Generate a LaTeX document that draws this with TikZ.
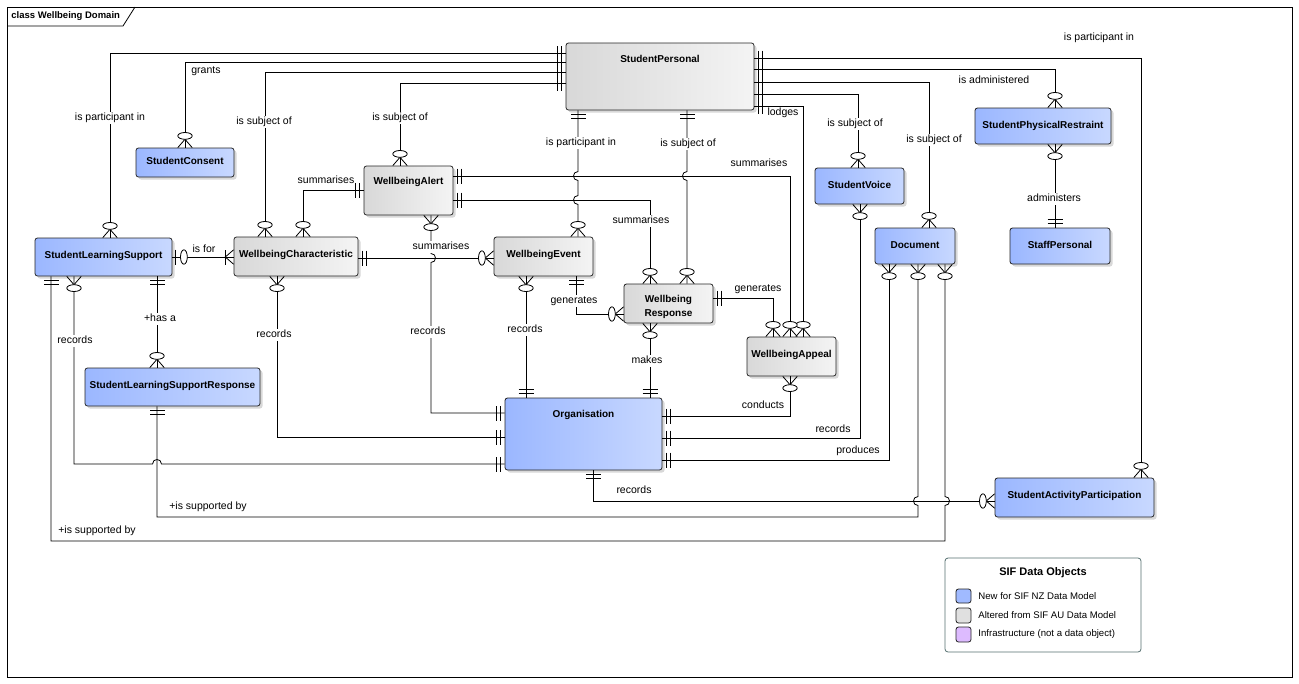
\documentclass[tikz,border=0pt]{standalone}
\usepackage{fontspec}
\setmainfont{Liberation Sans}
\usetikzlibrary{shadows}
\definecolor{newL}{RGB}{155,183,255}
\definecolor{newR}{RGB}{200,216,255}
\definecolor{altL}{RGB}{216,216,216}
\definecolor{altR}{RGB}{244,244,244}
\definecolor{legB}{RGB}{160,186,255}
\definecolor{legG}{RGB}{224,224,224}
\definecolor{legP}{RGB}{221,187,255}
\definecolor{legF}{RGB}{85,112,112}
\begin{document}
\begin{tikzpicture}[x=1pt,y=-1pt,line width=0.8pt,
  ent/.style={draw=black!85,rounded corners=2.5pt,inner sep=0pt,
    drop shadow={shadow xshift=2.5pt,shadow yshift=-2.5pt,fill=black!25,opacity=0.6}},
  newc/.style={ent,left color=newL,right color=newR},
  altc/.style={ent,left color=altL,right color=altR},
  ttl/.style={font=\fontsize{10}{12}\selectfont\bfseries,anchor=north,yshift=-11.6pt,inner sep=0pt,text height=8pt,text depth=2pt},
  lbl/.style={font=\fontsize{10.5}{12}\selectfont,fill=white,inner sep=1pt,text height=7.5pt,text depth=2pt},
  cn/.style={draw=black},
  mkone/.pic={\draw (4,-7.5)--(4,7.5) (8,-7.5)--(8,7.5);},
  mkzm/.pic={\draw (0,-7.2)--(8.3,0)--(0,7.2); \draw[fill=white] (11.7,0) ellipse [x radius=3.4,y radius=7.2];},
  mkzo/.pic={\draw (3,-7.5)--(3,7.5); \draw[fill=white] (11.5,0) ellipse [x radius=3.4,y radius=7.2];},
  mkom/.pic={\draw (0,-7.2)--(8.3,0)--(0,7.2); \draw (8.5,-7.5)--(8.5,7.5);}
]
\useasboundingbox (0,0) rectangle (1299,683);
\fill[white] (0,0) rectangle (1299,683);
% frame
\draw (7,7) rectangle (1292,677);
\draw (7,26) -- (123,26) -- (135,7);
\node[font=\fontsize{9.5}{11}\selectfont\bfseries,anchor=west,inner sep=0pt] (frametitle) at (11,16.5) {class Wellbeing Domain};

% entities
\node[altc,minimum width=188pt,minimum height=67pt,label={[ttl]north:StudentPersonal}] (sp) at (660,76.5) {};
\node[newc,minimum width=98pt,minimum height=29pt,label={[ttl,yshift=3pt]north:StudentConsent}] (sc) at (185,162.5) {};
\node[altc,minimum width=89pt,minimum height=49pt,label={[ttl,yshift=1pt]north:WellbeingAlert}] (wa) at (408.5,190.5) {};
\node[newc,minimum width=137pt,minimum height=38pt,label={[ttl,yshift=-1pt]north:StudentLearningSupport}] (sls) at (103.5,257) {};
\node[altc,minimum width=124pt,minimum height=39pt,label={[ttl,yshift=-1pt]north:WellbeingCharacteristic}] (wc) at (296,256.5) {};
\node[altc,minimum width=99pt,minimum height=39pt,label={[ttl,yshift=-1pt]north:WellbeingEvent}] (we) at (543.5,256.5) {};
\node[altc,minimum width=89pt,minimum height=39pt,label={[font=\fontsize{10}{14}\selectfont\bfseries,align=center,inner sep=0pt,yshift=-3pt]center:Wellbeing\\Response}] (wr) at (668.5,303.5) {};
\node[altc,minimum width=89pt,minimum height=39pt,label={[ttl,yshift=-1pt]north:WellbeingAppeal}] (wap) at (791.5,356.5) {};
\node[newc,minimum width=157pt,minimum height=72pt,label={[ttl]north:Organisation}] (org) at (583.5,434) {};
\node[newc,minimum width=175pt,minimum height=38pt,label={[ttl,yshift=-1pt]north:StudentLearningSupportResponse}] (slsr) at (172.5,387) {};
\node[newc,minimum width=89pt,minimum height=36pt,label={[ttl,yshift=-0.5pt]north:StudentVoice}] (sv) at (859.5,186) {};
\node[newc,minimum width=80pt,minimum height=36pt,label={[ttl,yshift=-0.5pt]north:Document}] (doc) at (915,246) {};
\node[newc,minimum width=136pt,minimum height=36pt,label={[ttl,yshift=-0.5pt]north:StudentPhysicalRestraint}] (spr) at (1043,126) {};
\node[newc,minimum width=100pt,minimum height=36pt,label={[ttl,yshift=-0.5pt]north:StaffPersonal}] (stp) at (1060,246) {};
\node[newc,minimum width=159pt,minimum height=39pt,label={[ttl,yshift=-1pt]north:StudentActivityParticipation}] (sap) at (1074.5,497.5) {};

% connectors from StudentPersonal
\draw[cn] (sp.west |- 0,53) -| (sls.north -| 110,0);
\draw[cn] (sp.west |- 0,62) -| (sc.north -| 185,0);
\draw[cn] (sp.west |- 0,72) -| (wc.north -| 265,0);
\draw[cn] (sp.west |- 0,83) -| (wa.north -| 400,0);
\draw[cn] (sp.south -| 578,0) -- (578,171.5) .. controls (572,171.5) and (572,180.5) .. (578,180.5) -- (578,195.5) .. controls (572,195.5) and (572,204.5) .. (578,204.5) -- (we.north -| 578,0);
\draw[cn] (sp.south -| 687,0) -- (687,171.5) .. controls (681,171.5) and (681,180.5) .. (687,180.5) -- (wr.north -| 687,0);
\draw[cn] (sp.east |- 0,58) -| (sap.north -| 1141,0);
\draw[cn] (sp.east |- 0,69) -| (spr.north -| 1055,0);
\draw[cn] (sp.east |- 0,82) -| (doc.north -| 929,0);
\draw[cn] (sp.east |- 0,94) -| (sv.north -| 858,0);
\draw[cn] (sp.east |- 0,106) -| (wap.north -| 803,0);
% WellbeingAlert
\draw[cn] (wa.east |- 0,176) -| (wap.north -| 790,0);
\draw[cn] (wa.east |- 0,200) -| (wr.north -| 650,0);
\draw[cn] (wc.north -| 303,0) |- (wa.west |- 0,190);
\draw[cn] (wa.south -| 431,0) -- (431,253.5) .. controls (437,253.5) and (437,262.5) .. (431,262.5) |- (org.west |- 0,413);
% WellbeingCharacteristic
\draw[cn] (wc.east |- 0,258) -- (we.west |- 0,258);
\draw[cn] (wc.south -| 277,0) |- (org.west |- 0,437);
% StudentLearningSupport
\draw[cn] (sls.east |- 0,257) -- (wc.west |- 0,257);
\draw[cn] (sls.south -| 51,0) |- (945,541) -- (945,505.5) .. controls (951,505.5) and (951,496.5) .. (945,496.5) -- (doc.south -| 945,0);
\draw[cn] (sls.south -| 74,0) -- (74,464) -- (152.5,464) .. controls (152.5,458) and (161.5,458) .. (161.5,464) -- (org.west |- 0,464);
\draw[cn] (sls.south -| 157,0) -- (slsr.north -| 157,0);
\draw[cn] (slsr.south -| 157,0) |- (918,517) -- (918,505.5) .. controls (912,505.5) and (912,496.5) .. (918,496.5) -- (doc.south -| 918,0);
% Document, StudentVoice, Organisation
\draw[cn] (doc.south -| 889,0) |- (org.east |- 0,460);
\draw[cn] (sv.south -| 860,0) |- (org.east |- 0,438);
\draw[cn] (org.east |- 0,416) -| (wap.south -| 790,0);
\draw[cn] (org.south -| 593,0) |- (sap.west |- 0,501);
\draw[cn] (org.north -| 526,0) -- (we.south -| 526,0);
\draw[cn] (org.north -| 650,0) -- (wr.south -| 650,0);
\draw[cn] (we.south -| 576,0) |- (wr.west |- 0,314);
\draw[cn] (wr.east |- 0,298) -| (wap.north -| 773,0);
\draw[cn] (spr.south -| 1055,0) -- (stp.north -| 1055,0);

% markers
\foreach \yy in {53,62,72,83} {\pic[rotate=180] at (sp.west |- 0,\yy) {mkone};}
\foreach \yy in {58,69,82,94,106} {\pic at (sp.east |- 0,\yy) {mkone};}
\foreach \xx in {578,687} {\pic[rotate=-90] at (sp.south -| \xx,0) {mkone};}
\pic[rotate=90] at (sls.north -| 110,0) {mkzm};
\pic[rotate=90] at (sc.north -| 185,0) {mkzm};
\pic[rotate=90] at (wc.north -| 265,0) {mkzm};
\pic[rotate=90] at (wa.north -| 400,0) {mkzm};
\pic[rotate=90] at (we.north -| 578,0) {mkzm};
\pic[rotate=90] at (wr.north -| 687,0) {mkzm};
\pic[rotate=90] at (sap.north -| 1141,0) {mkzm};
\pic[rotate=90] at (spr.north -| 1055,0) {mkzm};
\pic[rotate=90] at (doc.north -| 929,0) {mkzm};
\pic[rotate=90] at (sv.north -| 858,0) {mkzm};
\pic[rotate=90] at (wap.north -| 803,0) {mkzm};
\pic at (wa.east |- 0,176) {mkone};
\pic at (wa.east |- 0,200) {mkone};
\pic[rotate=90] at (wap.north -| 790,0) {mkzm};
\pic[rotate=90] at (wr.north -| 650,0) {mkzm};
\pic[rotate=90] at (wc.north -| 303,0) {mkzm};
\pic[rotate=180] at (wa.west |- 0,190) {mkone};
\pic[rotate=-90] at (wa.south -| 431,0) {mkzm};
\pic[rotate=180] at (org.west |- 0,413) {mkone};
\pic at (wc.east |- 0,258) {mkone};
\pic[rotate=180] at (we.west |- 0,258) {mkzm};
\pic[rotate=-90] at (wc.south -| 277,0) {mkzm};
\pic[rotate=180] at (org.west |- 0,437) {mkone};
\pic at (sls.east |- 0,257) {mkzo};
\pic[rotate=180] at (wc.west |- 0,257) {mkom};
\pic[rotate=-90] at (sls.south -| 51,0) {mkone};
\pic[rotate=-90] at (doc.south -| 945,0) {mkzm};
\pic[rotate=-90] at (sls.south -| 74,0) {mkzm};
\pic[rotate=180] at (org.west |- 0,464) {mkone};
\pic[rotate=-90] at (sls.south -| 157,0) {mkone};
\pic[rotate=90] at (slsr.north -| 157,0) {mkzm};
\pic[rotate=-90] at (slsr.south -| 157,0) {mkone};
\pic[rotate=-90] at (doc.south -| 918,0) {mkzm};
\pic[rotate=-90] at (doc.south -| 889,0) {mkzm};
\pic at (org.east |- 0,460) {mkone};
\pic[rotate=-90] at (sv.south -| 860,0) {mkzm};
\pic at (org.east |- 0,438) {mkone};
\pic at (org.east |- 0,416) {mkone};
\pic[rotate=-90] at (wap.south -| 790,0) {mkzm};
\pic[rotate=-90] at (org.south -| 593,0) {mkone};
\pic[rotate=180] at (sap.west |- 0,501) {mkzm};
\pic[rotate=90] at (org.north -| 526,0) {mkone};
\pic[rotate=-90] at (we.south -| 526,0) {mkzm};
\pic[rotate=90] at (org.north -| 650,0) {mkone};
\pic[rotate=-90] at (wr.south -| 650,0) {mkzm};
\pic[rotate=-90] at (we.south -| 576,0) {mkone};
\pic[rotate=180] at (wr.west |- 0,314) {mkzm};
\pic at (wr.east |- 0,298) {mkone};
\pic[rotate=90] at (wap.north -| 773,0) {mkzm};
\pic[rotate=-90] at (spr.south -| 1055,0) {mkzm};
\pic[rotate=90] at (stp.north -| 1055,0) {mkone};

% connector labels
\node[lbl] (l1) at (110,118) {is participant in};
\node[lbl] (l2) at (206,71) {grants};
\node[lbl] (l3) at (264,122) {is subject of};
\node[lbl] (l4) at (400,118) {is subject of};
\node[lbl] (l5) at (581,143) {is participant in};
\node[lbl] (l6) at (688,144) {is subject of};
\node[lbl] (l7) at (1099,38) {is participant in};
\node[lbl] (l8) at (994,81) {is administered};
\node[lbl] (l9) at (934,140) {is subject of};
\node[lbl] (l10) at (855,124) {is subject of};
\node[lbl] (l11) at (783,113) {lodges};
\node[lbl] (l12) at (759,164) {summarises};
\node[lbl] (l13) at (641,221) {summarises};
\node[lbl] (l14) at (326,181) {summarises};
\node[lbl] (l15) at (428,332) {records};
\node[lbl] (l16) at (441,247) {summarises};
\node[lbl] (l17) at (274,335) {records};
\node[lbl] (l18) at (204,250) {is for};
\node[lbl] (l19) at (97,531) {+is supported by};
\node[lbl] (l20) at (75,341) {records};
\node[lbl] (l21) at (160,319) {+has a};
\node[lbl] (l22) at (208,507) {+is supported by};
\node[lbl] (l23) at (858,451) {produces};
\node[lbl] (l24) at (833,430) {records};
\node[lbl] (l25) at (763,406) {conducts};
\node[lbl] (l26) at (634,491) {records};
\node[lbl] (l27) at (525,330) {records};
\node[lbl] (l28) at (647,361) {makes};
\node[lbl] (l29) at (574,301) {generates};
\node[lbl] (l30) at (758,289) {generates};
\node[lbl] (l31) at (1054,199) {administers};

% legend
\draw[legF,rounded corners=3pt,line width=0.8pt] (945,558) rectangle (1141,652);
\node[font=\fontsize{11}{13}\selectfont\bfseries,inner sep=0pt] (legt) at (1043,573) {SIF Data Objects};
\draw[black!85,fill=legB,rounded corners=2.5pt] (956,589) rectangle (971,603);
\draw[black!85,fill=legG,rounded corners=2.5pt] (956,608) rectangle (971,623);
\draw[black!85,fill=legP,rounded corners=2.5pt] (956,627) rectangle (971,642);
\node[font=\fontsize{9.6}{11}\selectfont,anchor=west,inner sep=0pt] (leg1) at (978,596) {New for SIF NZ Data Model};
\node[font=\fontsize{9.6}{11}\selectfont,anchor=west,inner sep=0pt] (leg2) at (978,615.5) {Altered from SIF AU Data Model};
\node[font=\fontsize{9.6}{11}\selectfont,anchor=west,inner sep=0pt] (leg3) at (978,634.5) {Infrastructure (not a data object)};
\end{tikzpicture}
\end{document}
